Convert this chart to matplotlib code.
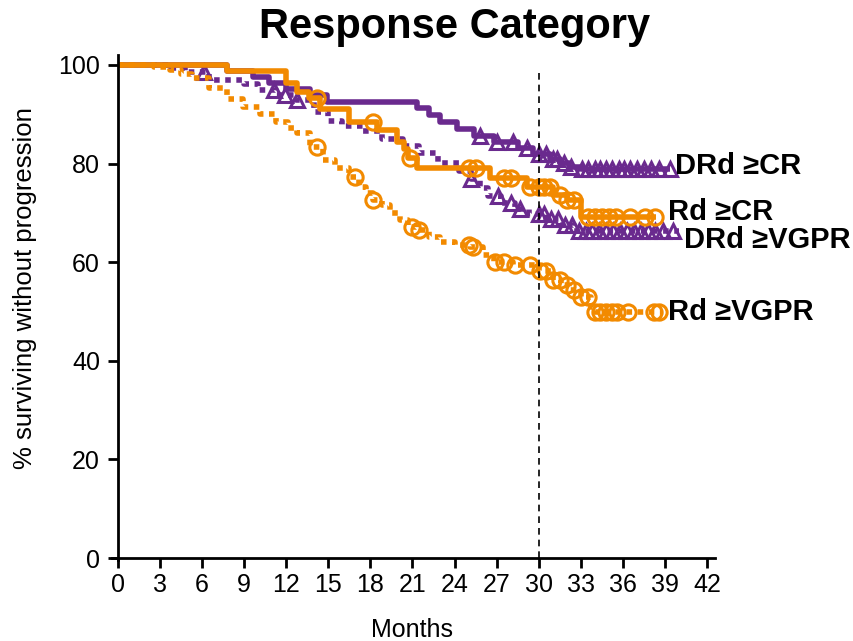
import numpy as np
import matplotlib
matplotlib.use('Agg')
import matplotlib.pyplot as plt

plt.rcParams['font.family'] = ['Liberation Sans', 'DejaVu Sans']

purple = '#6a2a8e'
orange = '#f28a00'

# DRd >=CR (solid purple)
drd_cr_t = [0, 7.8, 9.6, 10.8, 12.0, 13.7, 14.9, 21.3, 22.2, 23.0, 24.2, 25.4, 26.8, 28.5, 29.6, 30.8, 31.5, 32.2, 33.0, 39.4]
drd_cr_s = [100, 98.8, 97.6, 96.4, 95.2, 93.8, 92.4, 91.2, 89.8, 88.4, 87.0, 85.6, 84.4, 83.2, 82.0, 81.0, 80.2, 79.4, 78.8, 78.8]
drd_cr_cens = [25.8, 27.0, 28.2, 29.2, 30.0, 30.5, 31.0, 31.3, 31.8, 32.3, 33.1, 33.5, 34.0, 34.4, 34.8,
               35.2, 35.7, 36.1, 36.5, 37.0, 37.5, 38.0, 38.6, 39.4]

# DRd >=VGPR (dotted purple)
drd_vg_t = [0, 3.8, 4.8, 6.5, 9.0, 10.0, 11.3, 12.7, 14.0, 15.0, 16.0, 17.5, 18.8, 20.3, 21.5, 22.8, 24.3,
            25.2, 25.8, 26.4, 27.3, 28.3, 29.3, 30.5, 31.5, 32.5, 40.0]
drd_vg_s = [100, 99.3, 98.5, 97.0, 96.2, 95.0, 94.0, 92.8, 90.5, 88.6, 87.6, 86.6, 85.0, 83.6, 82.2, 80.2, 78.4,
            76.8, 75.0, 73.4, 72.0, 70.8, 69.8, 68.8, 67.6, 66.4, 66.4]
drd_vg_cens = [6.1, 11.1, 11.9, 12.8, 25.2, 27.1, 28.0, 28.7, 30.0, 30.4, 30.9, 31.4, 31.9, 32.4, 32.9, 33.4,
               33.8, 34.3, 34.8, 35.3, 35.8, 36.3, 36.8, 37.3, 37.8, 38.3, 38.9, 39.6]

# Rd >=CR (solid orange)
rd_cr_t = [0, 7.8, 12.0, 12.8, 13.6, 14.4, 16.5, 18.5, 19.9, 20.4, 20.7, 21.3, 26.5, 29.2, 31.0, 32.0, 33.0, 38.4]
rd_cr_s = [100, 98.8, 96.4, 94.6, 93.2, 91.0, 88.5, 86.8, 84.4, 83.0, 81.1, 79.0, 77.0, 75.3, 73.6, 72.6, 69.2, 69.2]
rd_cr_cens = [14.2, 18.2, 20.8, 25.0, 25.5, 27.5, 28.0, 29.4, 30.0, 30.4, 30.8, 31.5, 32.0, 32.5, 33.5, 34.0,
              34.5, 35.0, 35.5, 36.5, 37.6, 38.3]

# Rd >=VGPR (dotted orange)
rd_vg_t = [0, 2.6, 3.7, 4.5, 5.3, 6.5, 7.8, 8.9, 10.1, 11.3, 12.1, 12.8, 13.7, 14.6, 15.5, 16.5, 17.2, 17.7,
           18.2, 18.8, 19.4, 20.1, 20.7, 21.3, 22.2, 23.0, 24.0, 25.1, 26.0, 26.8, 28.2, 30.0, 31.0, 31.6,
           32.2, 33.0, 33.7, 34.0, 38.7]
rd_vg_s = [100, 99.6, 99.0, 98.2, 97.4, 95.3, 93.0, 91.5, 90.0, 88.4, 87.3, 86.2, 83.4, 80.7, 79.0, 77.3, 75.2,
           74.0, 72.6, 71.6, 70.0, 68.5, 67.1, 66.5, 65.2, 64.0, 63.4, 63.0, 61.5, 60.0, 59.4, 58.2, 56.4,
           55.4, 54.4, 53.0, 51.0, 49.8, 49.8]
rd_vg_cens = [14.2, 16.9, 18.2, 21.0, 21.5, 25.0, 25.3, 26.9, 27.5, 28.3, 29.4, 30.1, 30.5, 31.0, 31.5, 32.0,
              32.5, 33.0, 33.5, 34.0, 34.4, 34.8, 35.2, 35.6, 36.4, 38.2, 38.6]

labels = ['DRd \u2265CR', 'Rd \u2265CR', 'DRd \u2265VGPR', 'Rd \u2265VGPR']
label_pos = [(39.7, 79.6), (39.2, 70.2), (40.4, 64.4), (39.2, 49.8)]

xticks = list(range(0, 43, 3))
yticks = [0, 20, 40, 60, 80, 100]


def surv_at(ts, ss, t):
    i = np.searchsorted(ts, t, side='right') - 1
    return np.array(ss)[i]


fig = plt.figure(figsize=(8.54, 6.41), dpi=100)
ax = fig.add_axes([0.1316, 0.1256, 0.706, 0.7885])

curves = [
    (drd_cr_t, drd_cr_s, drd_cr_cens, purple, '-', '^'),
    (drd_vg_t, drd_vg_s, drd_vg_cens, purple, (0, (1, 1)), '^'),
    (rd_vg_t, rd_vg_s, rd_vg_cens, orange, (0, (1, 1)), 'o'),
    (rd_cr_t, rd_cr_s, rd_cr_cens, orange, '-', 'o'),
]
for ts, ss, cens, col, ls, mk in curves:
    ax.plot(ts, ss, drawstyle='steps-post', color=col, lw=4, linestyle=ls,
            solid_capstyle='butt', dash_capstyle='butt')
    cy = [surv_at(ts, ss, c) for c in cens]
    ms = 11 if mk == 'o' else 10.5
    ax.plot(cens, cy, linestyle='none', marker=mk, ms=ms, mfc='none', mec=col, mew=2.2)

ax.plot([30, 30], [0, 99], color='black', lw=1.2, linestyle=(0, (4, 3)))

for lab, (x, y) in zip(labels, label_pos):
    ax.text(x, y, lab, fontsize=21, fontweight='bold', va='center', ha='left')

ax.set_xlim(-0.4, 42.6)
ax.set_ylim(-0.5, 102)
ax.set_xticks(xticks)
ax.set_yticks(yticks)
ax.tick_params(labelsize=18, width=2, length=7, color='black')
ax.tick_params(axis='y', pad=6)
for s in ['top', 'right']:
    ax.spines[s].set_visible(False)
ax.spines['left'].set_position(('data', 0))
ax.spines['bottom'].set_position(('data', 0))
ax.spines['left'].set_linewidth(2)
ax.spines['bottom'].set_linewidth(2)
ax.set_xlabel('Months', fontsize=18)
ax.set_ylabel('% surviving without progression', fontsize=18.5)
ax.xaxis.set_label_coords(0.497, -0.114)
ax.yaxis.set_label_coords(-0.125, 0.539)
fig.text(0.532, 0.958, 'Response Category', fontsize=30, fontweight='bold', ha='center', va='center')

fig.savefig('out.png', dpi=100)
